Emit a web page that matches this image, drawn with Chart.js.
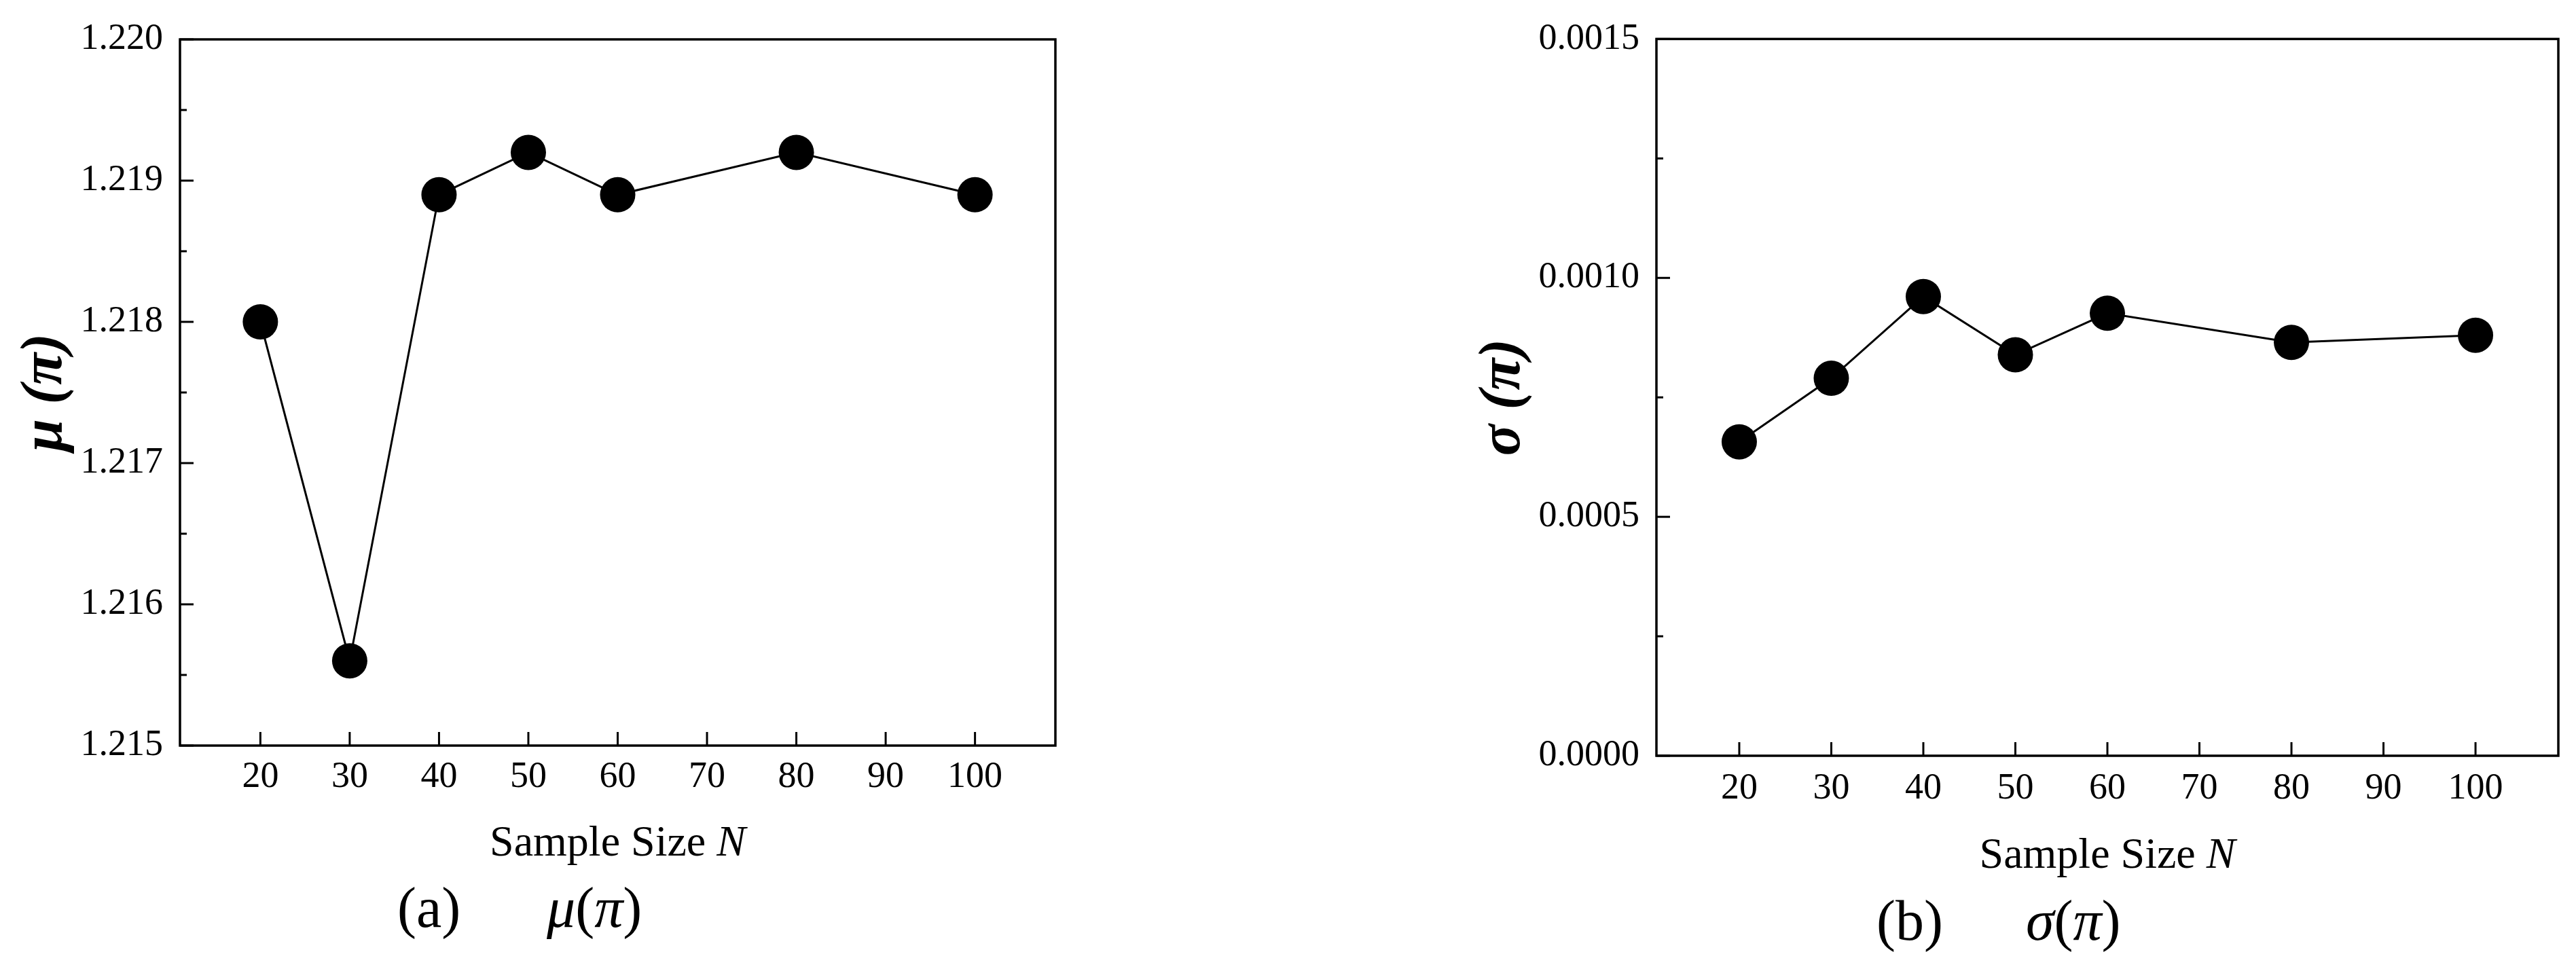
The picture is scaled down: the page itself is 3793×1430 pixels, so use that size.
<!DOCTYPE html>
<html><head><meta charset="utf-8">
<script src="https://cdn.jsdelivr.net/npm/chart.js@4/dist/chart.umd.min.js"></script>
<style>
html,body{margin:0;padding:0;background:#fff;width:3793px;height:1430px;overflow:hidden;position:relative}
canvas{position:absolute;top:0}
#c1{left:0}
#c2{left:1900px}
.cap{position:absolute;font-family:"Liberation Serif",serif;font-size:84px;line-height:1;white-space:pre;color:#000}
.cap i{font-style:italic}
</style></head><body>
<canvas id="c1" width="1850" height="1430" style="width:1850px;height:1430px"></canvas>
<canvas id="c2" width="1893" height="1430" style="width:1893px;height:1430px"></canvas>
<div class="cap" style="left:585px;top:1295px">(a)</div>
<div class="cap" style="left:805px;top:1295px"><i>μ</i>(<i>π</i>)</div>
<div class="cap" style="left:2763px;top:1314px">(b)</div>
<div class="cap" style="left:2983px;top:1314px"><i>σ</i>(<i>π</i>)</div>
<script>
// ---- data ----
const sampleSizes = [20, 30, 40, 50, 60, 80, 100];
const muValues = [1.2180, 1.2156, 1.2189, 1.2192, 1.2189, 1.2192, 1.2189];
const sigmaValues = [0.000657, 0.000790, 0.000961, 0.000839, 0.000926, 0.000865, 0.000880];

const xTickValues = [20, 30, 40, 50, 60, 70, 80, 90, 100];
const xTickLabels = ['20', '30', '40', '50', '60', '70', '80', '90', '100'];

const muTickValues = [1.215, 1.216, 1.217, 1.218, 1.219, 1.220];
const muTickLabels = ['1.215', '1.216', '1.217', '1.218', '1.219', '1.220'];
const muMinorTicks = [1.2155, 1.2165, 1.2175, 1.2185, 1.2195];

const sigmaTickValues = [0, 0.0005, 0.0010, 0.0015];
const sigmaTickLabels = ['0.0000', '0.0005', '0.0010', '0.0015'];
const sigmaMinorTicks = [0.00025, 0.00075, 0.00125];

const xTitleMain = 'Sample Size ';
const xTitleVar = 'N';

Chart.defaults.color = '#000';
Chart.defaults.font.family = '"Liberation Serif", "Times New Roman", serif';

const framePlugin = {
  id: 'frameTicks',
  beforeDatasetsDraw(chart, args, opts) {
    const {ctx, chartArea: a, scales: {x, y}} = chart;
    ctx.save();
    ctx.strokeStyle = '#000';
    ctx.lineCap = 'butt';
    ctx.lineWidth = 3;
    const seg = (x1, y1, x2, y2) => { ctx.beginPath(); ctx.moveTo(x1, y1); ctx.lineTo(x2, y2); ctx.stroke(); };
    xTickValues.forEach(v => { const p = x.getPixelForValue(v); seg(p, a.bottom, p, a.bottom - 20); });
    opts.major.forEach(v => { const p = y.getPixelForValue(v); seg(a.left, p, a.left + 20, p); });
    opts.minor.forEach(v => { const p = y.getPixelForValue(v); seg(a.left, p, a.left + 10, p); });
    ctx.lineWidth = 3.5;
    ctx.strokeRect(a.left, a.top, a.right - a.left, a.bottom - a.top);
    // x-axis title (mixed upright / italic)
    ctx.fillStyle = '#000';
    ctx.textBaseline = 'alphabetic';
    ctx.textAlign = 'left';
    ctx.font = '64px "Liberation Serif"';
    const w1 = ctx.measureText(xTitleMain).width;
    ctx.font = 'italic 64px "Liberation Serif"';
    const w2 = ctx.measureText(xTitleVar).width;
    const sx = (a.left + a.right) / 2 - (w1 + w2) / 2;
    const by = a.bottom + opts.titleOffset;
    ctx.font = '64px "Liberation Serif"';
    ctx.fillText(xTitleMain, sx, by);
    ctx.font = 'italic 64px "Liberation Serif"';
    ctx.fillText(xTitleVar, sx + w1, by);
    ctx.restore();
  }
};

function makeChart(id, values, g) {
  const points = sampleSizes.map((n, i) => ({x: n, y: values[i]}));
  return new Chart(document.getElementById(id), {
    type: 'line',
    data: {datasets: [{
      data: points,
      borderColor: '#000',
      borderWidth: 3,
      backgroundColor: '#000',
      pointRadius: 26,
      pointBackgroundColor: '#000',
      pointBorderWidth: 0,
      tension: 0,
      fill: false
    }]},
    options: {
      responsive: false,
      animation: false,
      events: [],
      devicePixelRatio: 1,
      layout: {padding: g.padding},
      plugins: {legend: {display: false}, tooltip: {enabled: false},
        frameTicks: {major: g.yTicks, minor: g.yMinor, titleOffset: g.titleOffset}},
      scales: {
        x: {
          type: 'linear', min: 11, max: 109,
          grid: {display: false, drawTicks: false},
          border: {display: false},
          afterBuildTicks: s => { s.ticks = xTickValues.map(v => ({value: v})); },
          ticks: {autoSkip: false, maxRotation: 0, padding: g.xPad,
            font: {size: 54}, callback: (v, i) => xTickLabels[i]},
          afterFit: s => { s.height = g.xHeight; }
        },
        y: {
          type: 'linear', min: g.yMin, max: g.yMax,
          grid: {display: false, drawTicks: false},
          border: {display: false},
          afterBuildTicks: s => { s.ticks = g.yTicks.map(v => ({value: v})); },
          ticks: {autoSkip: false, padding: 25, font: {size: 54},
            callback: (v, i) => g.yLabels[i]},
          title: {display: true, text: g.yTitle, padding: {top: g.yTitlePad, bottom: 0},
            font: {size: 86, style: 'italic', weight: 'bold'}},
          afterFit: s => { s.width = g.yWidth; }
        }
      }
    },
    plugins: [framePlugin]
  });
}

makeChart('c1', muValues, {
  padding: {left: 0, top: 58, right: 296, bottom: 0},
  yWidth: 265, xHeight: 332, xPad: 14, titleOffset: 162,
  yMin: 1.215, yMax: 1.220, yTicks: muTickValues, yLabels: muTickLabels, yMinor: muMinorTicks,
  yTitle: 'μ (π)', yTitlePad: 16
});
makeChart('c2', sigmaValues, {
  padding: {left: 230, top: 35, right: 18, bottom: 0},
  yWidth: 309, xHeight: 317, xPad: 16, titleOffset: 165,
  yMin: 0, yMax: 0.0015, yTicks: sigmaTickValues, yLabels: sigmaTickLabels, yMinor: sigmaMinorTicks,
  yTitle: 'σ (π)', yTitlePad: 33
});
</script>
</body></html>
